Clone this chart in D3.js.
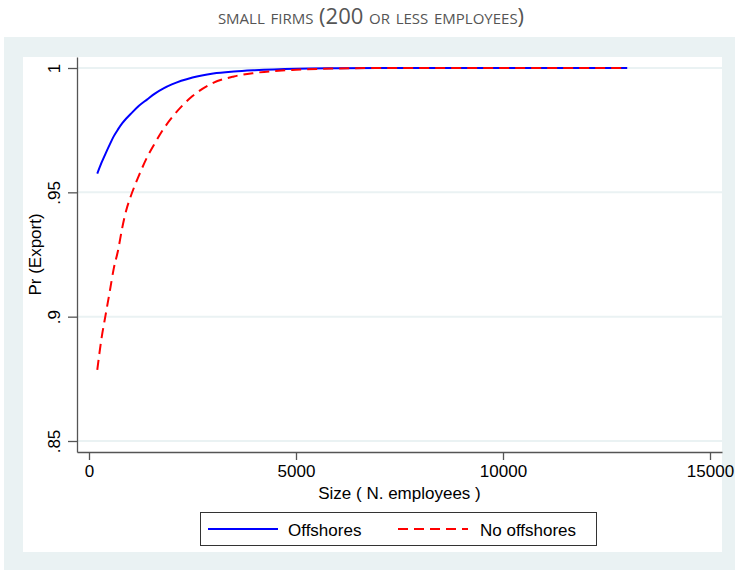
<!DOCTYPE html>
<html>
<head>
<meta charset="utf-8">
<script src="https://cdn.jsdelivr.net/npm/d3@7"></script>
<style>
  html, body { margin: 0; padding: 0; background: #ffffff; }
  svg { display: block; }
</style>
</head>
<body>
<svg id="chart" width="735" height="570"></svg>
<script>
// ---- Data ----
const titleText = "small firms (200 or less employees)";
const xLabel = "Size ( N. employees )";
const yLabel = "Pr (Export)";
const sizes = [200, 300, 400, 500, 600, 700, 800, 900, 1000, 1200, 1400, 1600, 1800, 2000, 2500, 3000, 3500, 4000, 5000, 6000, 7000, 8000, 10000, 13000];
const offshores = [0.9575, 0.9618, 0.9656, 0.9692, 0.9726, 0.9753, 0.9777, 0.9797, 0.9814, 0.9847, 0.9873, 0.9898, 0.9918, 0.9934, 0.9962, 0.9978, 0.9986, 0.9991, 0.9997, 0.9999, 1.0, 1.0, 1.0, 1.0];
const noOffshores = [0.8786, 0.8910, 0.9006, 0.9100, 0.9195, 0.9265, 0.9355, 0.9428, 0.9480, 0.9565, 0.9640, 0.9700, 0.9755, 0.9800, 0.9887, 0.9940, 0.9966, 0.9980, 0.9993, 0.9998, 1.0, 1.0, 1.0, 1.0];
const seriesNames = ["Offshores", "No offshores"];
const xTicks = [0, 5000, 10000, 15000];
const yTicks = [0.85, 0.9, 0.95, 1];
const yTickLabels = [".85", ".9", ".95", "1"];

// ---- Layout ----
const svg = d3.select("#chart");
const W = 735, H = 570;
const bgColor = "#eaf2f3";
const plot = { left: 77, right: 722, top: 57, bottom: 452 };
const axisFont = "'Liberation Sans', Arial, sans-serif";

// outer graph region
svg.append("rect").attr("x", 4).attr("y", 37).attr("width", W - 4).attr("height", H - 37).attr("fill", bgColor);
// inner white region
svg.append("rect").attr("x", 23).attr("y", 57).attr("width", 722 - 23).attr("height", 552 - 57).attr("fill", "#ffffff");

// title
svg.append("text")
  .attr("x", 371).attr("y", 24)
  .attr("text-anchor", "middle")
  .attr("font-family", "'Open Sans', 'Noto Sans', sans-serif")
  .attr("font-size", 22)
  .attr("font-variant", "small-caps")
  .attr("fill", "#555555")
  .text(titleText);

// scales
const x = d3.scaleLinear()
  .domain([(plot.left - 89) / 0.0414, (plot.right - 89) / 0.0414])
  .range([plot.left, plot.right]);
const yPerUnit = (441 - 68) / 0.15;
const y = d3.scaleLinear()
  .domain([0.85 - (plot.bottom - 441) / yPerUnit, 1 + (68 - plot.top) / yPerUnit])
  .range([plot.bottom, plot.top]);

// gridlines
svg.append("g").selectAll("line").data(yTicks).join("line")
  .attr("x1", plot.left).attr("x2", plot.right)
  .attr("y1", d => y(d)).attr("y2", d => y(d))
  .attr("stroke", bgColor).attr("stroke-width", 2);

// y axis
const yAxis = d3.axisLeft(y).tickValues(yTicks)
  .tickFormat((d, i) => yTickLabels[i]).tickSize(9).tickSizeOuter(0).tickPadding(8);
const gy = svg.append("g").attr("transform", `translate(${plot.left},0)`).call(yAxis);
gy.select(".domain").attr("stroke", "#555").attr("stroke-width", 1.3);
gy.selectAll(".tick line").attr("stroke", "#555").attr("stroke-width", 1.3);
gy.selectAll(".tick text")
  .attr("font-family", axisFont).attr("font-size", 17).attr("fill", "#000")
  .attr("text-anchor", "middle")
  .attr("x", 0).attr("dy", 0)
  .attr("transform", "translate(-17,0) rotate(-90)");

// x axis
const xAxis = d3.axisBottom(x).tickValues(xTicks).tickFormat(d3.format("d"))
  .tickSize(8).tickSizeOuter(0).tickPadding(5);
const gx = svg.append("g").attr("transform", `translate(0,${plot.bottom})`).call(xAxis);
gx.select(".domain").attr("stroke", "#555").attr("stroke-width", 1.3);
gx.selectAll(".tick line").attr("stroke", "#555").attr("stroke-width", 1.3);
gx.selectAll(".tick text")
  .attr("font-family", axisFont).attr("font-size", 17).attr("fill", "#000");

// axis titles
svg.append("text")
  .attr("x", (plot.left + plot.right) / 2 + 0).attr("y", 499)
  .attr("text-anchor", "middle")
  .attr("font-family", axisFont).attr("font-size", 17).attr("fill", "#000")
  .text(xLabel);
svg.append("text")
  .attr("transform", `translate(41,${(plot.top + plot.bottom) / 2}) rotate(-90)`)
  .attr("text-anchor", "middle")
  .attr("font-family", axisFont).attr("font-size", 17).attr("fill", "#000")
  .text(yLabel);

// lines
const line = d3.line().x(d => x(d[0])).y(d => y(d[1])).curve(d3.curveMonotoneX);
const redData = sizes.map((s, i) => [s, noOffshores[i]]);
const blueData = sizes.map((s, i) => [s, offshores[i]]);
svg.append("path").datum(blueData).attr("d", line)
  .attr("fill", "none").attr("stroke", "#0000ff").attr("stroke-width", 2);
svg.append("path").datum(redData).attr("d", line)
  .attr("fill", "none").attr("stroke", "#ff0000").attr("stroke-width", 2)
  .attr("stroke-dasharray", "10,6");

// legend
const lg = svg.append("g");
lg.append("rect").attr("x", 200.5).attr("y", 512.5).attr("width", 396).attr("height", 33)
  .attr("fill", "#fff").attr("stroke", "#333").attr("stroke-width", 1);
const legendItems = [
  { name: seriesNames[0], color: "#0000ff", dash: null, x0: 208, tx: 288 },
  { name: seriesNames[1], color: "#ff0000", dash: "10,6", x0: 398, tx: 480 }
];
legendItems.forEach(it => {
  lg.append("line").attr("x1", it.x0).attr("x2", it.x0 + 70).attr("y1", 529).attr("y2", 529)
    .attr("stroke", it.color).attr("stroke-width", 2)
    .attr("stroke-dasharray", it.dash);
  lg.append("text").attr("x", it.tx).attr("y", 535.5)
    .attr("font-family", axisFont).attr("font-size", 17).attr("fill", "#000")
    .text(it.name);
});
</script>
</body>
</html>
